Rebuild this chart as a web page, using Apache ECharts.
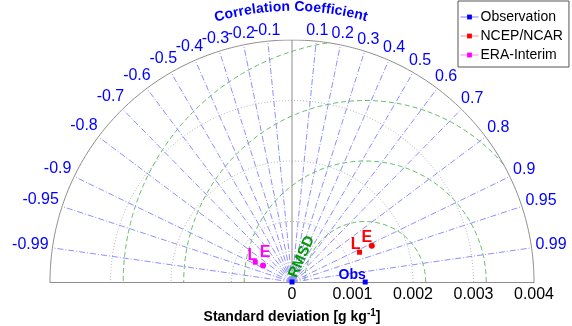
<!DOCTYPE html>
<html>
<head>
<meta charset="utf-8">
<script src="https://cdn.jsdelivr.net/npm/echarts@6/dist/echarts.min.js"></script>
<style>
html,body{margin:0;padding:0;background:#fff}
#chart{width:572px;height:326px}
</style>
</head>
<body>
<div id="chart"></div>
<script>
// Taylor diagram: radius = standard deviation, angle = arccos(correlation)
const sdMax = 0.004;
const sdTicks = [0, 0.001, 0.002, 0.003, 0.004];
const sdCircles = [0.001, 0.002, 0.003];
const rmsdCircles = [0.001, 0.002, 0.003, 0.004];
const corrTicks = [0.1, 0.2, 0.3, 0.4, 0.5, 0.6, 0.7, 0.8, 0.9, 0.95, 0.99];
const seriesNames = ['Observation', 'NCEP/NCAR', 'ERA-Interim'];
const pointLabels = ['L', 'E'];
const obsStd = 0.00121;
const ncepStd = [0.00122, 0.00145];
const ncepCorr = [0.915, 0.91];
const eraStd = [0.00069, 0.00055];
const eraCorr = [-0.88, -0.87];

const FONT = '"Liberation Sans", Arial, sans-serif';
const GRID_GREY = '#8c8c8c';
const CORR_BLUE = '#8e8eff';
const RMSD_GREEN = '#66bb66';

function toXY(sd, r) {
  return [sd * r, sd * Math.sqrt(Math.max(0, 1 - r * r))];
}

// half circle around (cx,0), optionally clipped to the outer std circle
function arc(cx, rad, clip) {
  const pts = [];
  for (let i = 0; i <= 360; i++) {
    const t = Math.PI * i / 360;
    const x = cx + rad * Math.cos(t), y = rad * Math.sin(t);
    if (clip && x * x + y * y > sdMax * sdMax * 1.0001) { pts.push([null, null]); continue; }
    pts.push([x, y]);
  }
  return pts;
}

const measureCtx = document.createElement('canvas').getContext('2d');
function textWidth(t, font) { measureCtx.font = font; return measureCtx.measureText(t).width; }

const series = [];
const lineBase = { type: 'line', symbol: 'none', silent: true, animation: false, connectNulls: false };

// std-dev circles (grey dotted)
sdCircles.forEach(s => series.push(Object.assign({}, lineBase, {
  data: arc(0, s, false), z: 1,
  lineStyle: { color: '#b4b4b4', width: 1, type: [1, 2] }
})));
// RMSD circles centred on the observation (green dashed)
rmsdCircles.forEach(s => series.push(Object.assign({}, lineBase, {
  data: arc(obsStd, s, true), z: 1,
  lineStyle: { color: RMSD_GREEN, width: 1, type: [5, 3] }
})));
// correlation rays (blue dash-dot), both signs
corrTicks.forEach(c => [c, -c].forEach(cc => series.push(Object.assign({}, lineBase, {
  data: [[0, 0], toXY(sdMax, cc)], z: 2,
  lineStyle: { color: CORR_BLUE, width: 1, type: [6, 2, 1, 2] }
}))));
// zero-correlation axis and outer frame
series.push(Object.assign({}, lineBase, {
  data: [[0, 0], [0, sdMax]], z: 3, lineStyle: { color: GRID_GREY, width: 1 }
}));
series.push(Object.assign({}, lineBase, {
  data: arc(0, sdMax, false), z: 3, lineStyle: { color: GRID_GREY, width: 1 }
}));

// correlation tick labels outside the frame
const corrLabelVals = [];
corrTicks.forEach(c => { corrLabelVals.push(c); corrLabelVals.push(-c); });
const corrFont = '16px ' + FONT;
series.push({
  type: 'custom', silent: true, animation: false, z: 5,
  data: corrLabelVals.map(c => toXY(sdMax, c)),
  renderItem: (params, api) => {
    const c = corrLabelVals[params.dataIndex];
    const s = Math.sqrt(1 - c * c);
    const p = api.coord([api.value(0), api.value(1)]);
    const txt = String(c);
    const w = textWidth(txt, corrFont);
    const d = 3.4 + w / 2 * Math.abs(c) + 6 * s;
    return {
      type: 'text', x: p[0] + d * c, y: p[1] - d * s,
      style: { text: txt, fill: '#0000ff', font: corrFont, align: 'center', verticalAlign: 'middle' }
    };
  }
});

// curved axis title
const titleText = 'Correlation Coefficient';
const titleFont = 'bold 14px ' + FONT;
series.push({
  type: 'custom', silent: true, animation: false, z: 5,
  data: [[0, 0]],
  renderItem: (params, api) => {
    const o = api.coord([0, 0]);
    const R = api.size([sdMax, 0])[0] + 26;
    const widths = Array.from(titleText).map(ch => textWidth(ch, titleFont));
    const total = widths.reduce((a, b) => a + b, 0);
    let acc = 0;
    const theta0 = Math.PI / 2 + (total / 2) / R + 0.004;
    const children = Array.from(titleText).map((ch, i) => {
      const th = theta0 - (acc + widths[i] / 2) / R;
      acc += widths[i];
      return {
        type: 'text', x: o[0] + R * Math.cos(th), y: o[1] - R * Math.sin(th),
        rotation: th - Math.PI / 2,
        style: { text: ch, fill: '#0000ff', font: titleFont, align: 'center', verticalAlign: 'bottom' }
      };
    });
    return { type: 'group', children };
  }
});

// RMSD label beside the inner RMSD circle
const rmsdLabelR = 0.00113, rmsdLabelAng = Math.PI * 158.5 / 180;
series.push({
  type: 'custom', silent: true, animation: false, z: 6,
  data: [[obsStd + rmsdLabelR * Math.cos(rmsdLabelAng), rmsdLabelR * Math.sin(rmsdLabelAng)]],
  renderItem: (params, api) => {
    const p = api.coord([api.value(0), api.value(1)]);
    return {
      type: 'text', x: p[0], y: p[1], rotation: Math.PI * 66 / 180,
      style: { text: 'RMSD', fill: '#009a00', font: 'bold 15px ' + FONT, align: 'center', verticalAlign: 'middle' }
    };
  }
});

// data markers
function pointSeries(name, color, lineColor, items) {
  return {
    type: 'line', name, animation: false, z: 10,
    symbol: 'rect', symbolSize: 5, showAllSymbol: true,
    itemStyle: { color }, lineStyle: { opacity: 0, color: lineColor },
    data: items
  };
}
const labelStyle = (color, off) => ({
  show: true, position: 'inside', offset: off, color,
  fontFamily: FONT, fontWeight: 'bold', fontSize: 16
});

series.push(pointSeries(seriesNames[0], '#0000ff', '#8080ff', [
  { value: [0, 0], label: { show: false } },
  { value: [obsStd, 0], label: Object.assign(labelStyle('#0000ff', [-13, -7]), { formatter: 'Obs', fontSize: 14 }) }
]));
const ncepOff = [[-4, -8], [-5, -8]];
series.push(pointSeries(seriesNames[1], '#ff0000', '#ff9090', ncepStd.map((s, i) => ({
  value: toXY(s, ncepCorr[i]), symbol: i === 0 ? 'rect' : 'circle', symbolSize: i === 0 ? 5 : 6,
  label: Object.assign(labelStyle('#ff0000', ncepOff[i]), { formatter: pointLabels[i] })
}))));
const eraOff = [[-3, -7], [2, -13]];
series.push(pointSeries(seriesNames[2], '#ff00ff', '#ff80ff', eraStd.map((s, i) => ({
  value: toXY(s, eraCorr[i]), symbol: i === 0 ? 'rect' : 'circle', symbolSize: i === 0 ? 5 : 6,
  label: Object.assign(labelStyle('#ff00ff', eraOff[i]), { formatter: pointLabels[i] })
}))));

const legendLine = ['#8080ff', '#ff9090', '#ff80ff'];
const option = {
  animation: false,
  backgroundColor: '#fff',
  grid: { left: 50, right: 38, top: 40, bottom: 44, containLabel: false, outerBoundsMode: 'none' },
  legend: {
    orient: 'vertical', left: 458, top: 1,
    itemWidth: 18, itemHeight: 6, itemGap: 5,
    padding: [9, 6, 5, 2],
    borderColor: '#555', borderWidth: 1,
    textStyle: { fontFamily: FONT, fontSize: 14, color: '#000', padding: [0, 0, 0, -3] },
    data: seriesNames.map((n, i) => ({ name: n, lineStyle: { opacity: 1, width: 1, color: legendLine[i] } }))
  },
  xAxis: {
    type: 'value', min: -sdMax, max: sdMax, interval: 0.001,
    name: '{n|Standard deviation [g kg}{sup|-1}{n|]}',
    nameLocation: 'middle', nameGap: 25,
    nameTextStyle: {
      rich: {
        n: { fontFamily: FONT, fontWeight: 'bold', fontSize: 14, color: '#000', lineHeight: 16, verticalAlign: 'bottom' },
        sup: { fontFamily: FONT, fontWeight: 'bold', fontSize: 10, color: '#000', lineHeight: 10, verticalAlign: 'top', padding: [0, 0, 11, 0] }
      }
    },
    axisLine: { show: true, lineStyle: { color: GRID_GREY } },
    axisTick: { show: false },
    splitLine: { show: false },
    axisLabel: {
      margin: 5, fontFamily: FONT, fontSize: 16, color: '#000',
      formatter: v => {
        const r = Math.round(v * 1e6) / 1e6;
        if (r < 0) return '';
        const t = sdTicks.find(k => Math.abs(k - r) < 1e-9);
        if (t === undefined) return '';
        return t === 0 ? '0' : t.toFixed(3);
      }
    }
  },
  yAxis: { type: 'value', min: 0, max: sdMax, show: false, splitLine: { show: false } },
  series
};

const chart = echarts.init(document.getElementById('chart'), null, { renderer: 'canvas' });
chart.setOption(option);
</script>
</body>
</html>
